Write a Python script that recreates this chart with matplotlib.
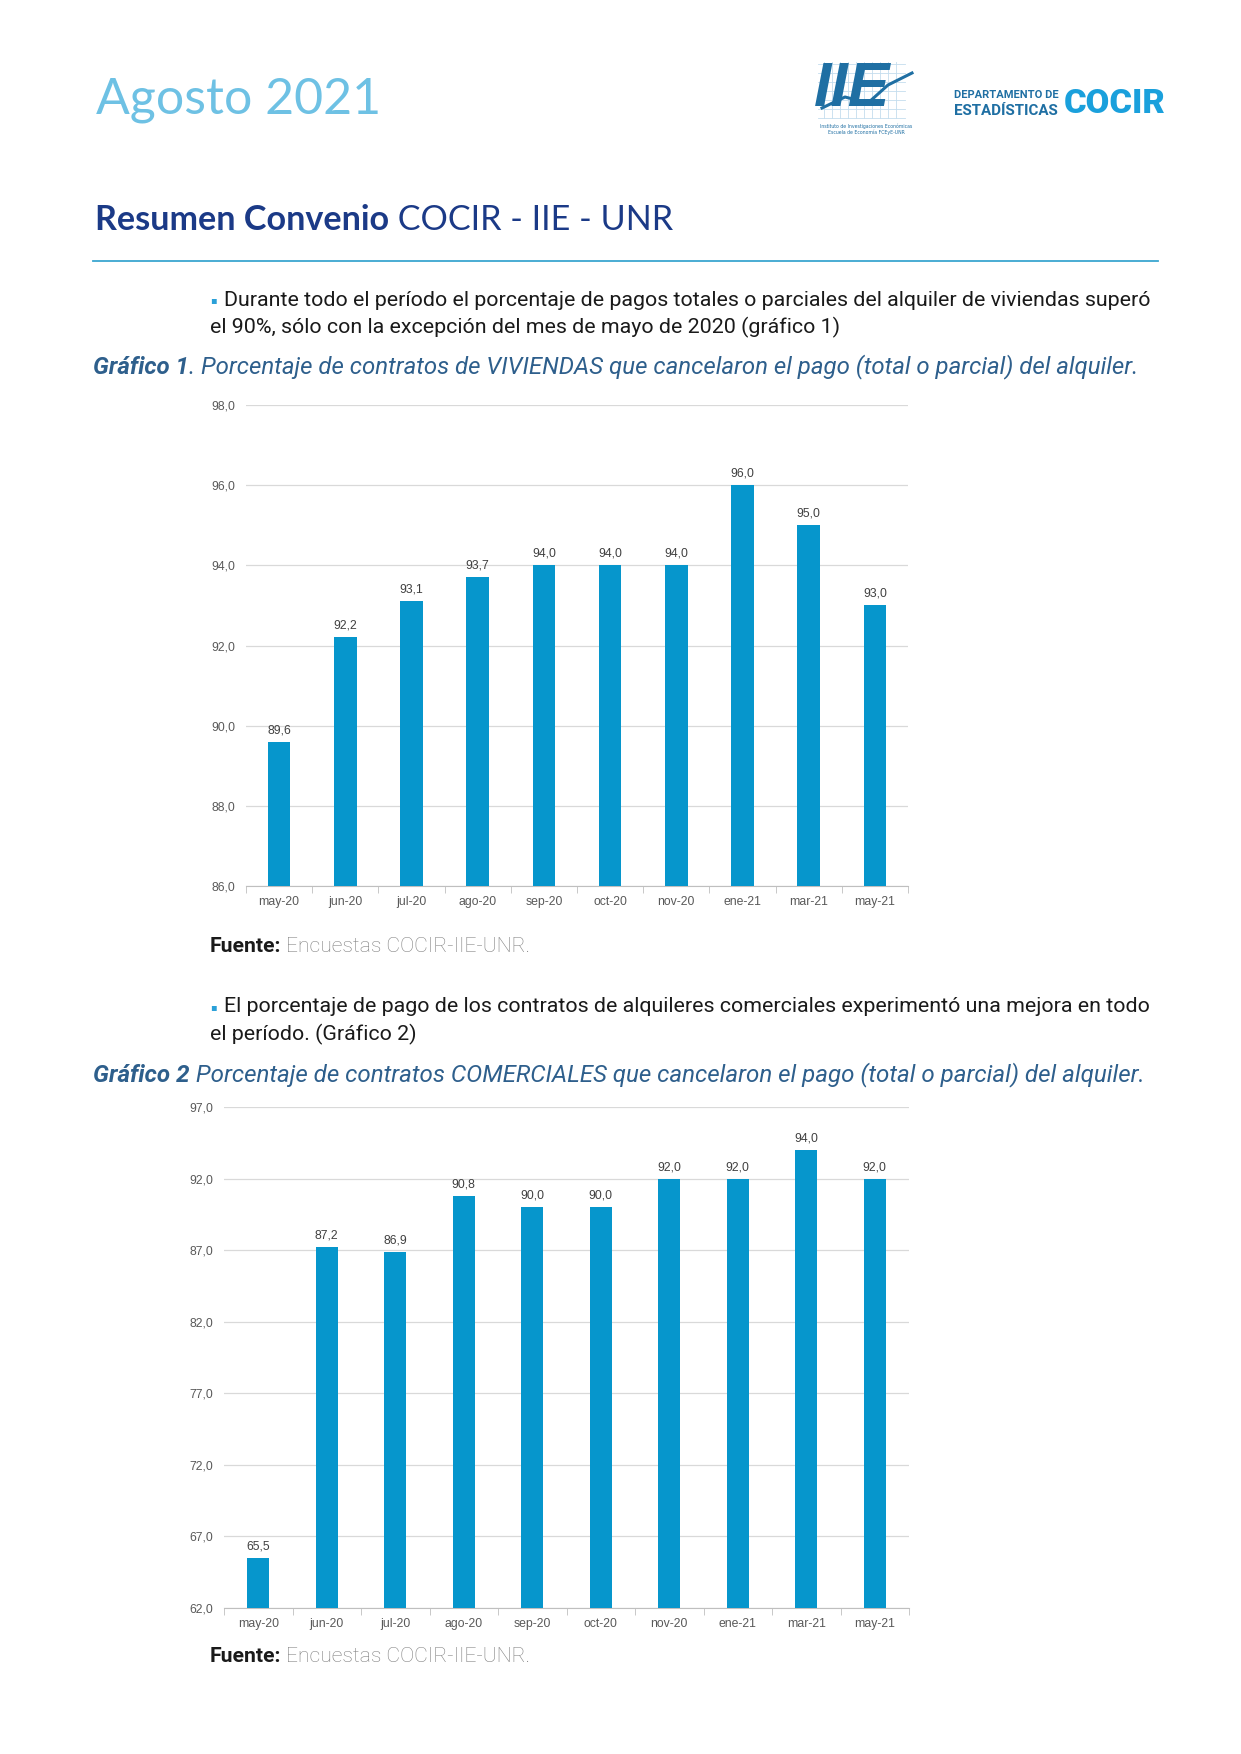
import matplotlib
matplotlib.use("Agg")
import matplotlib.pyplot as plt

W, H = 1241, 1754

meses = ["may-20", "jun-20", "jul-20", "ago-20", "sep-20", "oct-20", "nov-20", "ene-21", "mar-21", "may-21"]
viviendas = [89.6, 92.2, 93.1, 93.7, 94.0, 94.0, 94.0, 96.0, 95.0, 93.0]
comerciales = [65.5, 87.2, 86.9, 90.8, 90.0, 90.0, 92.0, 92.0, 94.0, 92.0]
ticks_viv = [86, 88, 90, 92, 94, 96, 98]
ticks_com = [62, 67, 72, 77, 82, 87, 92, 97]

azul_barra = "#0696cc"
gris_txt = "#595959"

fig = plt.figure(figsize=(W / 100, H / 100), dpi=100)
fig.patch.set_facecolor("white")
rend = fig.canvas.get_renderer()


def fx(x):
    return x / W


def fy(y):
    return 1 - y / H


def texto_partes(x, y, partes, ancho=None, **kw):
    # partes: lista de (texto, estilo) en una misma linea; ancho = ancho total en px
    escala = 1.0
    if ancho:
        tot = 0
        for s, st in partes:
            t = fig.text(0, 0, s, **{**kw, **st})
            tot += t.get_window_extent(renderer=rend).width
            t.remove()
        escala = ancho / tot
    for s, st in partes:
        est = {**kw, **st}
        est["fontsize"] = est.get("fontsize", 12) * escala
        t = fig.text(fx(x), fy(y), s, va="center", ha="left", **est)
        x += t.get_window_extent(renderer=rend).width
    return escala


# encabezado
fig.text(fx(96), fy(100), "Agosto 2021", family="Lato", fontsize=36, color="#6ec1e4", va="center")

# logo IIE (aproximado)
for i in range(10):
    fig.add_artist(plt.Line2D([fx(824 + i * 8), fx(824 + i * 8)], [fy(62), fy(118)], color="#c4ddee", lw=0.6))
for j in range(7):
    fig.add_artist(plt.Line2D([fx(818), fx(905)], [fy(64 + j * 9), fy(64 + j * 9)], color="#c4ddee", lw=0.6))
fig.text(fx(814), fy(89), "IIE", family="Liberation Sans", fontsize=45, fontweight="bold",
         style="italic", color="#1f6fa3", va="center")
fig.add_artist(plt.Line2D([fx(822), fx(845), fx(868), fx(888), fx(912)],
                          [fy(108), fy(97), fy(103), fy(85), fy(73)], color="#1f6fa3", lw=2.2))
fig.text(fx(866), fy(126), "Instituto de Investigaciones Económicas", fontsize=3.3, color="#1f6fa3",
         ha="center", va="center")
fig.text(fx(866), fy(132), "Escuela de Economía FCEyE-UNR", fontsize=3.3, color="#1f6fa3",
         ha="center", va="center")

# logo COCIR
logo = dict(family="Roboto", fontweight="bold", color="#1f6fa3")
texto_partes(954, 95, [("DEPARTAMENTO DE", {})], ancho=104, fontsize=10, **logo)
texto_partes(954, 111, [("ESTADÍSTICAS", {})], ancho=104, fontsize=12, **logo)
texto_partes(1064, 104, [("COCIR", {})], ancho=102, fontsize=26, family="Roboto",
             fontweight="black", color="#1aa0dc")

# titulo
texto_partes(95, 220, [("Resumen Convenio", dict(fontweight="bold")), (" COCIR - IIE - UNR", {})],
             ancho=577, family="Lato", fontsize=24, color="#1b3a87")
fig.add_artist(plt.Line2D([fx(93), fx(1158)], [fy(261), fy(261)], color="#3aa6d0", lw=1.3))

cuerpo = dict(family="Roboto", fontsize=14.2, color="#1a1a1a")
azul_punto = dict(color="#2aa0d8", family="DejaVu Sans", fontsize=7)
leyenda = dict(family="Roboto", fontsize=15.5, style="italic", color="#2e5f8c")

e1 = texto_partes(224, 300, [("Durante todo el período el porcentaje de pagos totales o parciales del alquiler de viviendas superó", {})],
                  ancho=929, **cuerpo)
fig.text(fx(210), fy(300), "▪", va="center", **azul_punto)
fig.text(fx(210), fy(327), "el 90%, sólo con la excepción del mes de mayo de 2020 (gráfico 1)", va="center",
         **{**cuerpo, "fontsize": cuerpo["fontsize"] * e1})
texto_partes(93, 367, [("Gráfico 1", dict(fontweight="bold")),
                       (". Porcentaje de contratos de VIVIENDAS que cancelaron el pago (total o parcial) del alquiler.", {})],
             ancho=1042, **leyenda)


def grafico(rect, valores, ticks, ancho):
    l, t, r, b = rect
    ax = fig.add_axes([fx(l), fy(b), fx(r - l), (b - t) / H])
    x = range(len(meses))
    ax.bar(x, valores, width=ancho, color=azul_barra, zorder=3)
    for xi, v in zip(x, valores):
        ax.annotate(f"{v:.1f}".replace(".", ","), (xi, v), xytext=(0, 4), textcoords="offset points",
                    ha="center", va="bottom", fontsize=8.8, color="#404040", family="Liberation Sans")
    ax.set_ylim(ticks[0], ticks[-1])
    ax.set_xlim(-0.5, len(meses) - 0.5)
    ax.set_yticks(ticks)
    ax.set_yticklabels([f"{v:.1f}".replace(".", ",") for v in ticks], fontsize=8.8,
                       color=gris_txt, family="Liberation Sans")
    ax.set_xticks(list(x))
    ax.set_xticklabels(meses, fontsize=8.8, color=gris_txt, family="Liberation Sans")
    ax.set_xticks([i + 0.5 for i in range(-1, len(meses))], minor=True)
    ax.tick_params(axis="x", which="major", length=0, pad=7)
    ax.tick_params(axis="x", which="minor", length=5, color="#bfbfbf")
    ax.tick_params(axis="y", length=0, pad=8)
    ax.grid(axis="y", color="#d9d9d9", lw=0.9, zorder=0)
    for s in ["top", "right", "left"]:
        ax.spines[s].set_visible(False)
    ax.spines["bottom"].set_color("#bfbfbf")
    return ax


grafico((246, 405, 908, 886), viviendas, ticks_viv, 0.34)

fuente_b = dict(family="Roboto", fontsize=14, fontweight="bold", color="#1a1a1a")
fuente_l = dict(family="Roboto", fontsize=14, fontweight="light", color="#7f7f7f")
texto_partes(210, 946, [("Fuente:", fuente_b), (" Encuestas COCIR-IIE-UNR.", fuente_l)], ancho=321)

e2 = texto_partes(224, 1007, [("El porcentaje de pago de los contratos de alquileres comerciales experimentó una mejora en todo", {})],
                  ancho=929, **cuerpo)
fig.text(fx(210), fy(1007), "▪", va="center", **azul_punto)
fig.text(fx(210), fy(1034), "el período. (Gráfico 2)", va="center",
         **{**cuerpo, "fontsize": cuerpo["fontsize"] * e2})
texto_partes(93, 1075, [("Gráfico 2", dict(fontweight="bold")),
                        (" Porcentaje de contratos COMERCIALES que cancelaron el pago (total o parcial) del alquiler.", {})],
             ancho=1051, **leyenda)

grafico((224, 1107, 909, 1608), comerciales, ticks_com, 0.32)

texto_partes(210, 1657, [("Fuente:", fuente_b), (" Encuestas COCIR-IIE-UNR.", fuente_l)], ancho=321)

fig.savefig("out.png", dpi=100, facecolor="white")
